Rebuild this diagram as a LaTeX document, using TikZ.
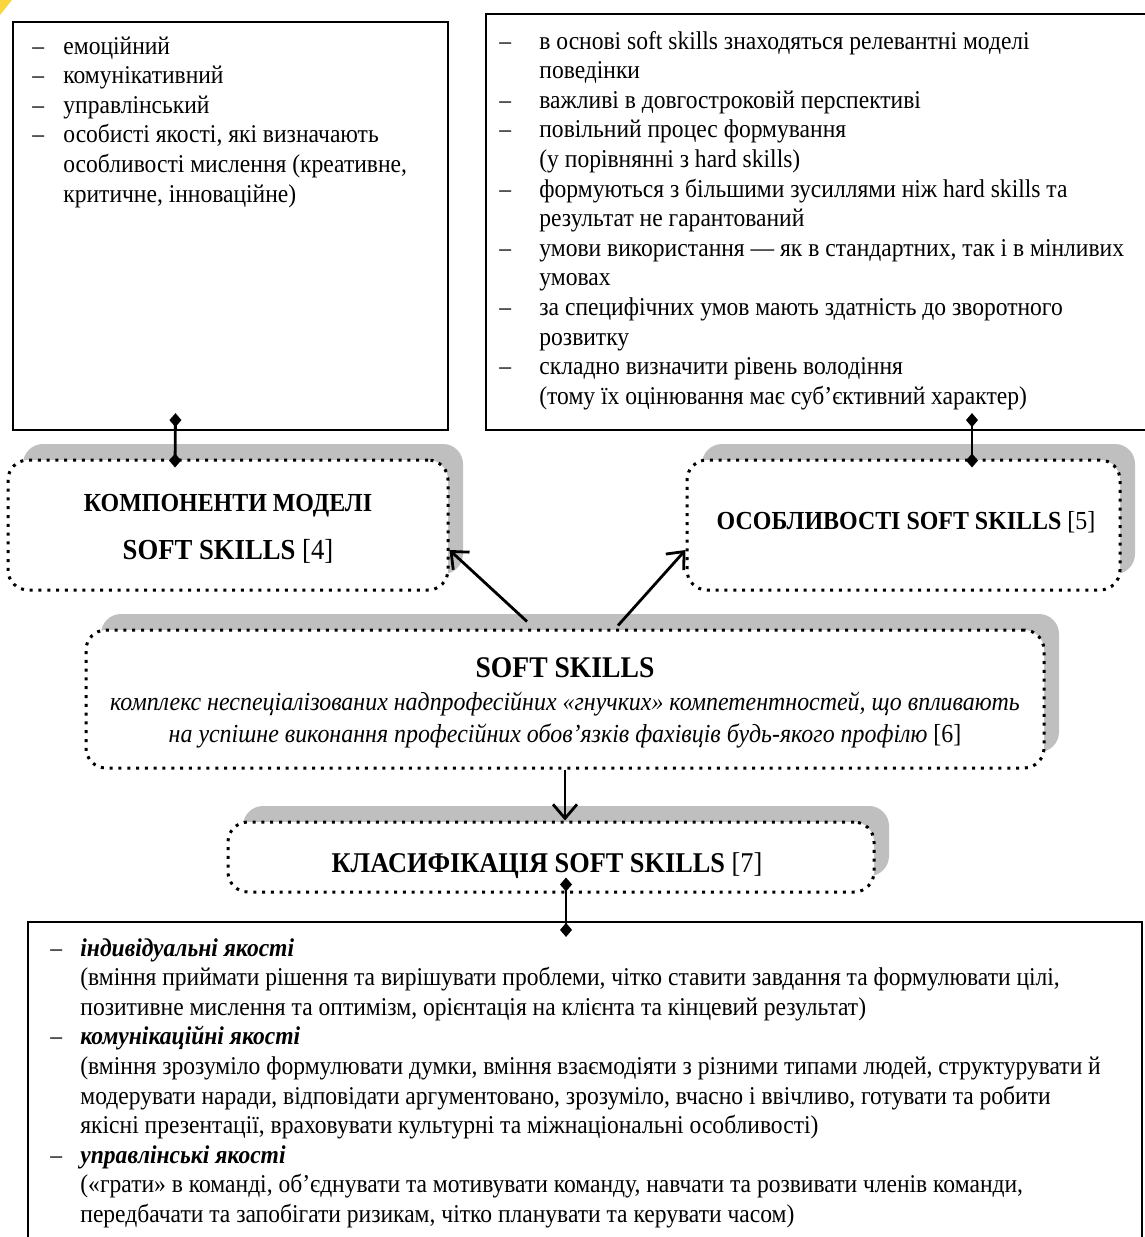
\documentclass[tikz,border=0pt]{standalone}
\usepackage{fontspec}
\setmainfont[FakeStretch=0.92]{Liberation Serif}
\usetikzlibrary{arrows.meta,shadows,fit,calc}
\definecolor{shade}{RGB}{191,191,191}
\definecolor{corner}{RGB}{250,214,60}
\newlength\dashgap
\newcommand{\dashitem}[1]{\par\noindent\hangindent=\dashgap\hangafter=1\makebox[\dashgap][l]{–}#1}

\begin{document}
\begin{tikzpicture}[x=0.5pt,y=-0.5pt,
    listbox/.style={draw,line width=1.1pt,inner sep=0pt},
    listtext/.style={inner sep=0pt,anchor=base west,font=\fontsize{12.8}{14.8}\selectfont},
    panel/.style={draw,fill=white,line width=1.5pt,dash pattern=on 1.5pt off 2.9pt,
      rounded corners=10pt,inner sep=0pt,
      drop shadow={shadow xshift=7.5pt,shadow yshift=8pt,fill=shade,opacity=1}},
    title/.style={anchor=base,inner sep=0pt,font=\bfseries\fontsize{13}{15}\selectfont},
    gloss/.style={anchor=base,inner sep=0pt,font=\fontsize{13}{15}\selectfont},
    link/.style={{Diamond[length=7pt,width=6pt]}-{Diamond[length=7pt,width=6pt]},line width=1.4pt},
    arr/.style={-{Straight Barb[length=7pt,width=12pt]},line width=1.4pt}]
  \useasboundingbox (0,0) rectangle (1145,1237);
  \fill[corner] (0,0) -- (12,0) -- (0,15) -- cycle;

  % lists
  \node[listbox,fit={(13,22) (448,430)}] (comps) {};
  \node[listbox,fit={(486,14) (1170,430)}] (feats) {};
  \node[listbox,fit={(28,922) (1142,1260)}] (types) {};

  \node[listtext] (compstext) at (32,54) {\setlength\dashgap{15.5pt}\parbox[t]{300pt}{%
    \dashitem{емоційний}
    \dashitem{комунікативний}
    \dashitem{управлінський}
    \dashitem{особисті якості, які визначають\newline особливості мислення (креативне,\newline критичне, інноваційне)}}};

  \node[listtext] (featstext) at (499,49) {\setlength\dashgap{20pt}\parbox[t]{400pt}{%
    \dashitem{в основі soft skills знаходяться релевантні моделі\newline поведінки}
    \dashitem{важливі в довгостроковій перспективі}
    \dashitem{повільний процес формування\newline (у порівнянні з hard skills)}
    \dashitem{формуються з більшими зусиллями ніж hard skills та\newline результат не гарантований}
    \dashitem{умови використання — як в стандартних, так і в мінливих\newline умовах}
    \dashitem{за специфічних умов мають здатність до зворотного\newline розвитку}
    \dashitem{складно визначити рівень володіння\newline (тому їх оцінювання має суб’єктивний характер)}}};

  \node[listtext] (typestext) at (50,956) {\setlength\dashgap{15pt}\parbox[t]{640pt}{%
    \dashitem{\textbf{\textit{індивідуальні якості}}\newline (вміння приймати рішення та вирішувати проблеми, чітко ставити завдання та формулювати цілі,\newline позитивне мислення та оптимізм, орієнтація на клієнта та кінцевий результат)}
    \dashitem{\textbf{\textit{комунікаційні якості}}\newline (вміння зрозуміло формулювати думки, вміння взаємодіяти з різними типами людей, структурувати й\newline модерувати наради, відповідати аргументовано, зрозуміло, вчасно і ввічливо, готувати та робити\newline якісні презентації, враховувати культурні та міжнаціональні особливості)}
    \dashitem{\textbf{\textit{управлінські якості}}\newline («грати» в команді, об’єднувати та мотивувати команду, навчати та розвивати членів команди,\newline передбачати та запобігати ризикам, чітко планувати та керувати часом)}}};

  % panels
  \node[panel,fit={(8,460) (448,590)}] (komp) {};
  \node[panel,fit={(687,460) (1120,590)}] (osob) {};
  \node[panel,fit={(86,630) (1044,768)}] (soft) {};
  \node[panel,fit={(228,822) (874,892)}] (klas) {};

  \node[title] (kompname) at (228,511) {КОМПОНЕНТИ МОДЕЛІ};
  \node[title,font=\bfseries\fontsize{14.5}{16}\selectfont] (kompref) at (228,559) {SOFT SKILLS \textmd{[4]}};
  \node[title] (osobname) at (906,529) {ОСОБЛИВОСТІ SOFT SKILLS \textmd{[5]}};
  \node[title,font=\bfseries\fontsize{15}{17}\selectfont] (softname) at (565,677) {SOFT SKILLS};
  \node[gloss] (softdef) at (565,710)
    {\textit{комплекс неспеціалізованих надпрофесійних «гнучких» компетентностей, що впливають}};
  \node[gloss] (softdefb) at (565,742)
    {\textit{на успішне виконання професійних обов’язків фахівців будь-якого профілю} [6]};
  \node[title,font=\bfseries\fontsize{14.3}{16}\selectfont] (klasname) at (547,872) {КЛАСИФІКАЦІЯ SOFT SKILLS \textmd{[7]}};

  % connectors
  \draw[link] ($(comps.south)+(-27.5pt,9pt)$) -- ($(komp.north)+(-26.5pt,-4.5pt)$);
  \draw[link] ($(feats.south)+(72pt,9pt)$) -- ($(osob.north)+(34.25pt,-4.5pt)$);
  \draw[arr] ($(soft.north)+(-19pt,3.5pt)$) -- ($(komp.east)+(0,-12.5pt)$);
  \draw[arr] ($(soft.north)+(26.5pt,1.5pt)$) -- ($(osob.west)+(0,-12.5pt)$);
  \draw[arr] (soft.south) -- ($(klas.south |- klas.north)+(7pt,0)$);
  \draw[link] ($(klas.south)+(7.5pt,8pt)$) -- ($(klas.south |- types.north)+(7.5pt,-8pt)$);
\end{tikzpicture}
\end{document}
